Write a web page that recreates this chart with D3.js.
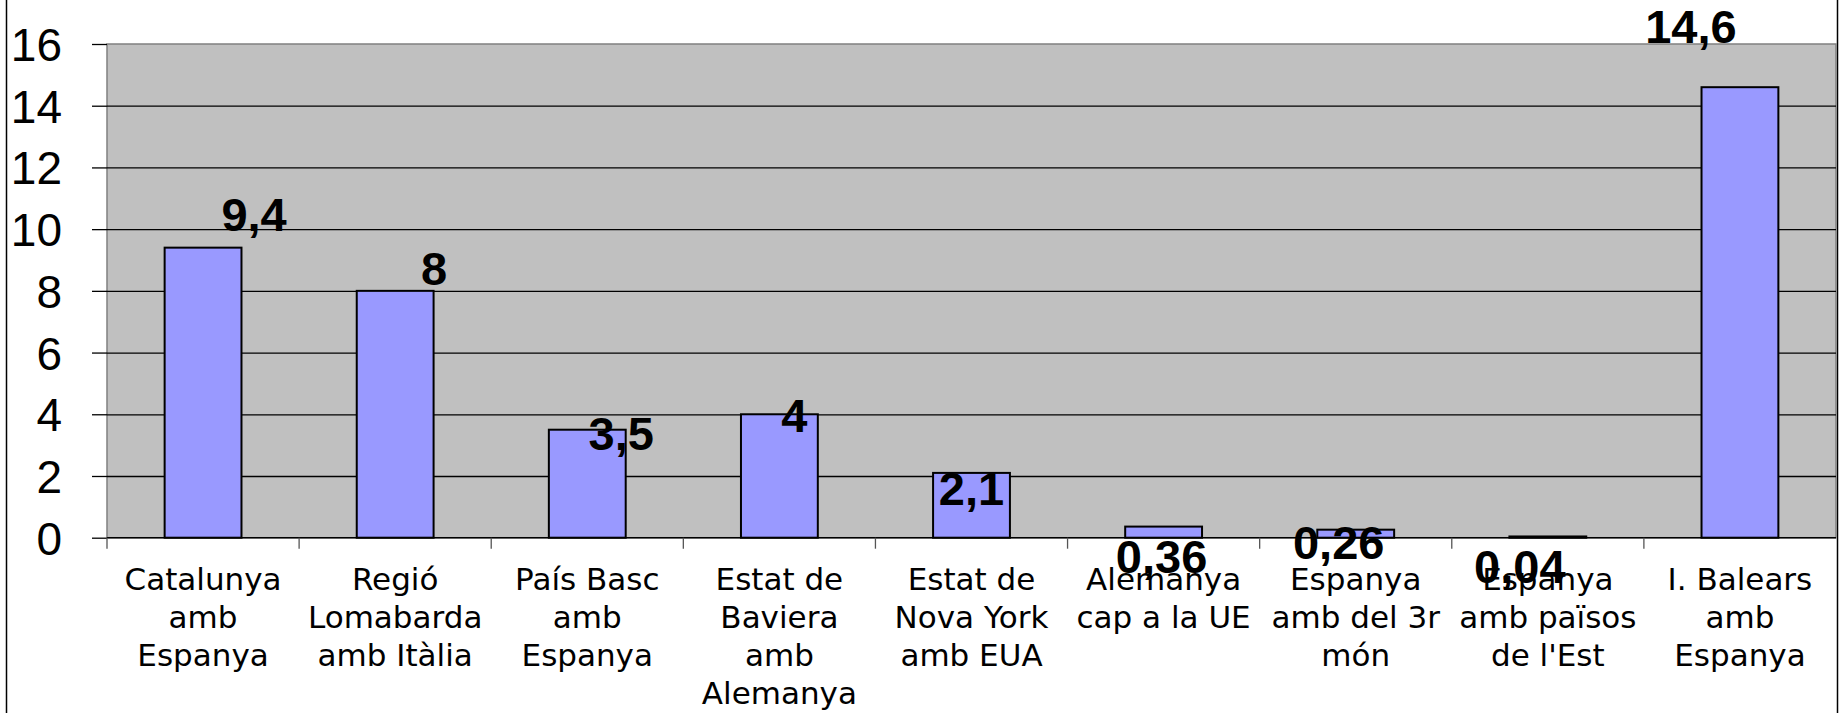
<html>
<head>
<meta charset="utf-8">
<title>Bar chart</title>
<style>
  body { margin: 0; background: #fff; }
  .val { font: bold 47px "Liberation Sans", Arial, sans-serif; fill: #000; }
  .ytick text { font: 46px "Liberation Sans", Arial, sans-serif; fill: #000; }
  .cat { font: 31px "DejaVu Sans", sans-serif; fill: #000; }
</style>
<script src="https://d3js.org/d3.v7.min.js"></script>
</head>
<body>
<svg width="1841" height="713"></svg>
<script>
var categories = [
  ["Catalunya", "amb", "Espanya"],
  ["Regió", "Lomabarda", "amb Itàlia"],
  ["País Basc", "amb", "Espanya"],
  ["Estat de", "Baviera", "amb", "Alemanya"],
  ["Estat de", "Nova York", "amb EUA"],
  ["Alemanya", "cap a la UE"],
  ["Espanya", "amb del 3r", "món"],
  ["Espanya", "amb països", "de l'Est"],
  ["I. Balears", "amb", "Espanya"]
];
var values = [9.4, 8, 3.5, 4, 2.1, 0.36, 0.26, 0.04, 14.6];
var valueLabels = ["9,4", "8", "3,5", "4", "2,1", "0,36", "0,26", "0,04", "14,6"];
var yTicks = [0, 2, 4, 6, 8, 10, 12, 14, 16];
// where each value label sits relative to the top centre of its bar (px)
var labelOffsets = [[51, -17], [39, -6], [34, 20], [15, 18], [0, 32], [-2, 46], [-17, 29], [-28, 47], [-49, -44]];

var svg = d3.select("svg"),
    plotLeft = 107, plotRight = 1836, plotTop = 44, plotBottom = 537.7;

var x = d3.scaleBand()
    .domain(d3.range(values.length))
    .range([plotLeft, plotRight])
    .paddingInner(0.6)
    .paddingOuter(0.3);
var y = d3.scaleLinear().domain([0, 16]).range([plotBottom, plotTop]);

// outer frame (left and right only)
svg.append("line").attr("x1", 6.5).attr("x2", 6.5).attr("y1", 0).attr("y2", 713)
   .attr("stroke", "#000").attr("stroke-width", 1.5);
svg.append("line").attr("x1", 1837.5).attr("x2", 1837.5).attr("y1", 0).attr("y2", 713)
   .attr("stroke", "#000").attr("stroke-width", 1.5);

// plot area
svg.append("rect")
   .attr("x", plotLeft).attr("y", plotTop)
   .attr("width", plotRight - plotLeft).attr("height", plotBottom - plotTop)
   .attr("fill", "#c0c0c0")
   .attr("stroke", "#808080").attr("stroke-width", 1.5);

// grid lines
svg.append("g")
   .attr("transform", `translate(${plotLeft},0)`)
   .call(d3.axisLeft(y).tickValues(yTicks.slice(1, -1)).tickSize(-(plotRight - plotLeft)).tickFormat(""))
   .call(g => g.select(".domain").remove())
   .call(g => g.selectAll("line").attr("stroke", "#000").attr("stroke-width", 1.3));

// y axis ticks + labels
svg.append("g")
   .attr("class", "ytick")
   .attr("transform", `translate(${plotLeft},0)`)
   .call(d3.axisLeft(y).tickValues(yTicks).tickSize(15).tickPadding(30).tickFormat(d => d))
   .call(g => g.select(".domain").remove())
   .call(g => g.selectAll("line").attr("stroke", "#000").attr("stroke-width", 1.3))
   .call(g => g.selectAll("text").attr("dy", "0.36em"));

// bars
svg.append("g")
   .selectAll("rect")
   .data(values)
   .enter()
   .append("rect")
   .attr("x", (d, i) => x(i))
   .attr("y", d => y(d))
   .attr("width", x.bandwidth())
   .attr("height", d => y(0) - y(d))
   .attr("fill", "#9999ff")
   .attr("stroke", "#000")
   .attr("stroke-width", 2);

// x axis line and boundary ticks
var gap = (x.step() - x.bandwidth()) / 2;
var bounds = d3.range(values.length).map(i => x(i) - gap);
svg.append("line").attr("x1", plotLeft).attr("x2", plotRight).attr("y1", y(0)).attr("y2", y(0))
   .attr("stroke", "#000").attr("stroke-width", 1.5);
svg.append("g")
   .selectAll("line")
   .data(bounds)
   .enter()
   .append("line")
   .attr("x1", d => d).attr("x2", d => d)
   .attr("y1", y(0)).attr("y2", y(0) + 11)
   .attr("stroke", "#555").attr("stroke-width", 1.3);

// category labels
var cats = svg.append("g")
   .selectAll("text")
   .data(categories)
   .enter()
   .append("text")
   .attr("class", "cat")
   .attr("text-anchor", "middle")
   .attr("x", (d, i) => x(i) + x.bandwidth() / 2)
   .attr("y", 590);
cats.selectAll("tspan")
   .data(d => d)
   .enter()
   .append("tspan")
   .attr("x", function () { return d3.select(this.parentNode).attr("x"); })
   .attr("dy", (d, i) => i === 0 ? 0 : 38)
   .text(d => d);

// value labels
svg.append("g")
   .selectAll("text")
   .data(values)
   .enter()
   .append("text")
   .attr("class", "val")
   .attr("text-anchor", "middle")
   .attr("x", (d, i) => x(i) + x.bandwidth() / 2 + labelOffsets[i][0])
   .attr("y", (d, i) => y(d) + labelOffsets[i][1])
   .text((d, i) => valueLabels[i]);
</script>
</body>
</html>
